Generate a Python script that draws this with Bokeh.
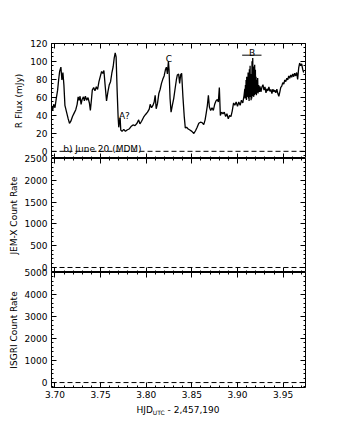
from bokeh.plotting import figure
from bokeh.layouts import column
from bokeh.models import (Range1d, LinearAxis, SingleIntervalTicker, PrintfTickFormatter,
                          Span, Label, ColumnDataSource, Div)
from bokeh.embed import file_html
from bokeh.resources import INLINE

# ---------------- data ----------------
hjd = [3.6964, 3.6975, 3.6986, 3.7000, 3.7014, 3.7029, 3.7040, 3.7051, 3.7065, 3.7076,
       3.7087, 3.7098, 3.7109, 3.7127, 3.7145, 3.7159, 3.7174, 3.7192, 3.7210, 3.7228,
       3.7243, 3.7254, 3.7265, 3.7275, 3.7286, 3.7297, 3.7312, 3.7322, 3.7333, 3.7348,
       3.7362, 3.7377, 3.7388, 3.7399, 3.7409, 3.7424, 3.7438, 3.7453, 3.7467, 3.7482,
       3.7496, 3.7511, 3.7525, 3.7536, 3.7551, 3.7565, 3.7580, 3.7594, 3.7609, 3.7623,
       3.7638, 3.7649, 3.7660, 3.7670, 3.7681, 3.7692, 3.7699, 3.7707, 3.7714, 3.7721,
       3.7735, 3.7754, 3.7772, 3.7790, 3.7812, 3.7833, 3.7855, 3.7877, 3.7899, 3.7917,
       3.7931, 3.7949, 3.7971, 3.7993, 3.8014, 3.8033, 3.8043, 3.8058, 3.8072, 3.8087,
       3.8098, 3.8109, 3.8123, 3.8138, 3.8152, 3.8167, 3.8181, 3.8196, 3.8210, 3.8221,
       3.8232, 3.8243, 3.8250, 3.8261, 3.8272, 3.8286, 3.8301, 3.8315, 3.8330, 3.8341,
       3.8355, 3.8366, 3.8377, 3.8388, 3.8402, 3.8417, 3.8428, 3.8442, 3.8460, 3.8478,
       3.8500, 3.8522, 3.8540, 3.8558, 3.8576, 3.8594, 3.8612, 3.8630, 3.8645, 3.8659,
       3.8670, 3.8681, 3.8692, 3.8706, 3.8721, 3.8735, 3.8750, 3.8764, 3.8779, 3.8790,
       3.8801, 3.8812, 3.8826, 3.8841, 3.8855, 3.8870, 3.8884, 3.8899, 3.8913, 3.8928,
       3.8942, 3.8957, 3.8971, 3.8985, 3.9000, 3.9014, 3.9029, 3.9043, 3.9058, 3.9072,
       3.9080, 3.9083, 3.9087, 3.9091, 3.9094, 3.9098, 3.9101, 3.9105, 3.9109, 3.9112,
       3.9116, 3.9120, 3.9123, 3.9127, 3.9130, 3.9134, 3.9138, 3.9141, 3.9145, 3.9149,
       3.9152, 3.9156, 3.9159, 3.9163, 3.9167, 3.9170, 3.9174, 3.9177, 3.9181, 3.9185,
       3.9188, 3.9192, 3.9196, 3.9199, 3.9203, 3.9207, 3.9210, 3.9214, 3.9221, 3.9225,
       3.9232, 3.9239, 3.9246, 3.9257, 3.9268, 3.9279, 3.9290, 3.9301, 3.9312, 3.9322,
       3.9333, 3.9344, 3.9355, 3.9366, 3.9377, 3.9388, 3.9399, 3.9409, 3.9420, 3.9431,
       3.9442, 3.9453, 3.9464, 3.9474, 3.9485, 3.9496, 3.9507, 3.9518, 3.9529, 3.9540,
       3.9551, 3.9561, 3.9572, 3.9583, 3.9594, 3.9605, 3.9616, 3.9626, 3.9637, 3.9648,
       3.9659, 3.9670, 3.9681, 3.9692, 3.9703, 3.9714, 3.9725]
r_flux = [50.0, 45.5, 52.3, 48.5, 58.7, 68.1, 79.4, 88.8, 93.7, 79.4,
          87.7, 73.7, 51.2, 43.6, 36.1, 31.2, 33.5, 38.7, 42.5, 46.3,
          52.3, 60.6, 56.8, 61.3, 52.3, 57.6, 60.6, 56.1, 61.3, 56.8,
          59.8, 53.8, 45.5, 56.8, 68.1, 71.1, 67.3, 71.9, 68.8, 77.5,
          83.1, 88.8, 86.9, 89.9, 71.9, 56.1, 66.2, 73.7, 77.5, 86.9,
          94.4, 103.8, 109.5, 105.0, 68.1, 38.0, 26.7, 34.2, 37.2, 23.7,
          22.2, 24.5, 22.2, 23.7, 24.8, 27.5, 29.3, 28.6, 31.2, 35.0,
          30.5, 33.5, 38.0, 41.0, 43.6, 47.0, 52.3, 48.5, 50.8, 54.9,
          62.4, 47.4, 53.0, 64.3, 68.8, 75.6, 80.1, 83.9, 90.7, 93.7,
          86.1, 100.1, 90.7, 58.7, 43.6, 51.2, 58.7, 68.8, 79.4, 85.0,
          86.1, 75.6, 85.0, 86.9, 60.6, 38.0, 26.0, 26.7, 24.8, 23.7,
          22.2, 19.9, 22.9, 26.7, 31.2, 32.4, 32.0, 29.7, 35.0, 43.6,
          51.2, 62.4, 49.3, 45.5, 48.5, 45.5, 52.3, 56.1, 57.6, 54.9,
          71.1, 39.9, 43.6, 41.8, 43.6, 38.7, 41.8, 36.1, 39.9, 38.7,
          44.8, 53.8, 51.2, 54.9, 50.0, 54.9, 51.2, 56.8, 53.8, 62.4,
          69.6, 58.7, 73.7, 60.6, 79.4, 57.2, 83.1, 60.6, 73.7, 61.3,
          87.7, 58.7, 81.6, 56.1, 91.4, 62.4, 95.2, 60.6, 79.4, 56.8,
          86.1, 58.7, 100.1, 64.3, 103.8, 61.3, 94.4, 60.6, 86.1, 62.4,
          96.3, 63.6, 90.7, 64.3, 83.1, 62.4, 79.4, 65.1, 81.6, 64.3,
          73.7, 66.2, 72.2, 66.2, 71.6, 74.1, 68.1, 71.6, 65.1, 69.6,
          67.3, 71.6, 66.6, 68.8, 64.3, 69.2, 66.2, 68.1, 65.1, 69.2,
          64.3, 61.3, 66.2, 71.1, 72.6, 76.4, 74.8, 79.4, 77.5, 81.3,
          79.4, 83.9, 81.3, 85.0, 82.4, 86.1, 83.1, 86.9, 83.9, 87.7,
          80.1, 92.5, 98.2, 95.2, 97.4, 91.4, 87.7]

x_limits = [3.6962, 3.9745]
y1_limits = [-8, 120]
y2_limits = [-115, 2500]
y3_limits = [-225, 5000]
zero_levels = [0, 0, 0]

x_tick_step = 0.05
y_tick_steps = [20, 500, 1000]
y_minor_counts = [4, 5, 5]
y_labels = ["R Flux (mJy)", "JEM-X Count Rate", "ISGRI Count Rate"]
x_title_main = "HJD"
x_title_sub = "UTC"
x_title_rest = " - 2,457,190"

panel_title = "b) June 20 (MDM)"
ann_text = ["A?", "C", "B"]
ann_x = [3.7701, 3.8248, 3.9161]
ann_y = [39.5, 102.5, 109.2]
bar_b_x = [3.9051, 3.9263]
bar_b_y = [107.0, 107.0]

FONT = "DejaVu Sans"
FS = "9px"
LEFT = 51
FRAME_W = 254

xr = Range1d(*x_limits)


def style_axis(ax, ticker, hide_labels=False, fmt=None, standoff=4):
    ax.ticker = ticker
    ax.axis_line_color = None
    ax.major_tick_in = 5
    ax.major_tick_out = 0
    ax.minor_tick_in = 2
    ax.minor_tick_out = 0
    ax.major_tick_line_color = "black"
    ax.minor_tick_line_color = "black"
    ax.major_label_text_font = FONT
    if fmt is not None:
        ax.formatter = fmt
    if hide_labels:
        ax.major_label_text_font_size = "1px"
        ax.major_label_text_color = None
        ax.major_label_standoff = 0
    else:
        ax.major_label_text_font_size = FS
        ax.major_label_text_color = "black"
        ax.major_label_standoff = standoff
    ax.axis_label_text_font = FONT
    ax.axis_label_text_font_size = FS
    ax.axis_label_text_font_style = "normal"
    ax.axis_label_text_color = "black"
    ax.axis_label_standoff = 3


def make_panel(yr, idx, fh, top, bottom, show_x):
    p = figure(x_range=xr, y_range=Range1d(*yr), frame_width=FRAME_W, frame_height=fh,
               output_backend="svg", toolbar_location=None,
               x_axis_location=None, y_axis_location=None,
               min_border_left=LEFT, min_border_right=10,
               min_border_top=top, min_border_bottom=bottom)
    p.grid.visible = False
    p.outline_line_color = "black"
    p.outline_line_width = 1
    p.background_fill_color = None
    p.border_fill_color = None

    xt = lambda: SingleIntervalTicker(interval=x_tick_step, num_minor_ticks=5)
    yt = lambda: SingleIntervalTicker(interval=y_tick_steps[idx], num_minor_ticks=y_minor_counts[idx])

    left = LinearAxis(axis_label=y_labels[idx])
    style_axis(left, yt(), standoff=4)
    p.add_layout(left, "left")
    right = LinearAxis()
    style_axis(right, yt(), hide_labels=True)
    p.add_layout(right, "right")
    above = LinearAxis()
    style_axis(above, xt(), hide_labels=True)
    p.add_layout(above, "above")
    below = LinearAxis()
    style_axis(below, xt(), hide_labels=not show_x,
               fmt=PrintfTickFormatter(format="%.2f"), standoff=3)
    p.add_layout(below, "below")

    p.add_layout(Span(location=zero_levels[idx], dimension="width", line_color="black",
                      line_width=1, line_dash="5 3"))
    return p


p1 = make_panel(y1_limits, 0, 115, 43, 0, False)
p2 = make_panel(y2_limits, 1, 114, 6, 0, False)
p3 = make_panel(y3_limits, 2, 115, 6, 14, True)
p2.margin = (-6, 0, 0, 0)
p3.margin = (-6, 0, 0, 0)

src = ColumnDataSource(dict(x=hjd, y=r_flux))
p1.line("x", "y", source=src, line_color="black", line_width=1.3)
p1.line(bar_b_x, bar_b_y, line_color="black", line_width=1)

for t, xx, yy in zip(ann_text, ann_x, ann_y):
    p1.add_layout(Label(x=xx, y=yy, text=t, text_font=FONT, text_font_size=FS,
                        text_align="left" if t == "A?" else "center",
                        text_baseline="alphabetic", text_color="black"))
p1.add_layout(Label(x=3.7091, y=3.0, text=panel_title, text_font=FONT, text_font_size=FS,
                    text_align="left", text_baseline="alphabetic", text_color="black"))

xtitle = Div(
    text=('<div style="font-family: \'DejaVu Sans\'; font-size: 9px; line-height: 12px; '
          'text-align: center; width: %dpx; color: black; white-space: nowrap;">'
          '%s<span style="font-size: 6px; position: relative; top: 2px;">%s</span>%s</div>'
          % (FRAME_W, x_title_main, x_title_sub, x_title_rest)),
    width=FRAME_W, height=14, margin=(0, 0, 0, LEFT))

layout = column(p1, p2, p3, xtitle, spacing=0)
open("out.html", "w").write(file_html(layout, INLINE))
